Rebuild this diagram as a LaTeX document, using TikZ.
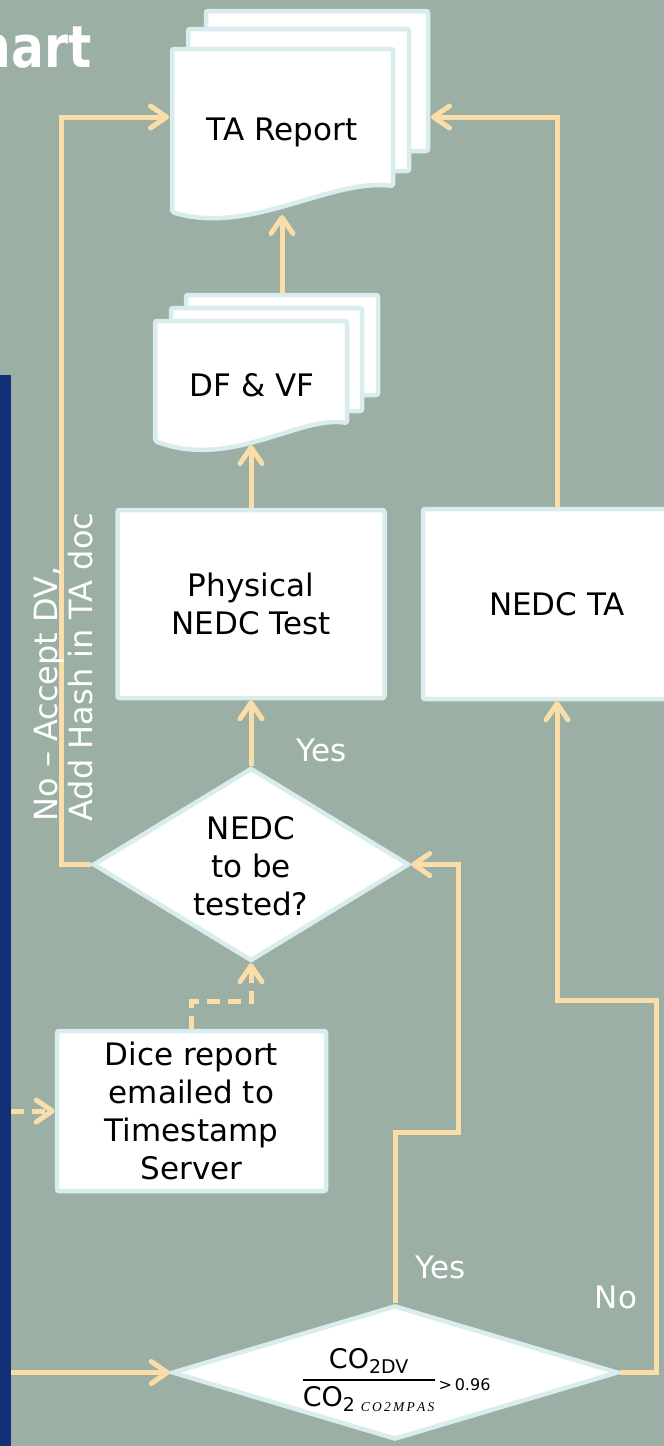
\documentclass[tikz,border=0pt]{standalone}
\usepackage{amsmath}
\usepackage{fontspec}
\setmainfont{DejaVu Sans}
\newfontfamily\serifit{Liberation Serif}
\usetikzlibrary{arrows.meta,shapes.geometric}
\definecolor{bg}{RGB}{155,175,165}
\definecolor{navy}{RGB}{18,47,120}
\definecolor{peach}{RGB}{250,222,170}
\definecolor{edge}{RGB}{218,237,238}
\begin{document}
\begin{tikzpicture}[x=1pt,y=-1pt,
  conn/.style={draw=peach,line width=5pt,-{Straight Barb[length=16pt,width=22pt,round]}},
  dashconn/.style={conn,dash pattern=on 13pt off 8pt},
  box/.style={draw=edge,fill=white,line width=4.5pt,rounded corners=2pt,inner sep=0pt,align=center,font=\fontsize{31}{38}\selectfont},
  pagebox/.style={draw=edge,fill=white,line width=4.5pt,rounded corners=2pt,inner sep=0pt},
  page/.style={draw=edge,fill=white,line width=4.5pt,rounded corners=2pt,line join=round},
  dia/.style={diamond,draw=edge,fill=white,line width=4.5pt,inner sep=0pt},
  diatext/.style={inner sep=0pt,align=center,font=\fontsize{31}{38}\selectfont},
  lbl/.style={text=white,inner sep=0pt,font=\fontsize{31}{37}\selectfont},
  doctext/.style={inner sep=0pt,font=\fontsize{31}{38}\selectfont},
]
\fill[bg] (0,0) rectangle (664,1446);
\useasboundingbox (0,0) rectangle (664,1446);
\node[fill=navy,minimum width=11pt,minimum height=1071pt,anchor=north west,inner sep=0pt,outer sep=0pt] (bar) at (0,375) {};
\node[anchor=base east,text=white,inner sep=0pt,xscale=0.84,font=\fontsize{58}{58}\selectfont\bfseries] (title) at (92,67) {hart};

% TA Report stack
\node[pagebox,minimum width=222pt,minimum height=140pt] (tab) at (317,81) {};
\node[pagebox,minimum width=221pt,minimum height=142pt] (tam) at (298.5,100) {};
\draw[page] (172,49) -- (393,49) -- (393,186) .. controls (330,178) and (250,236) .. (172,212) -- cycle;
\node[doctext] (ta) at (282,132) {TA Report};
\coordinate (taW) at (169,117);
\coordinate (taE) at (431,117);
\coordinate (taB) at (282,215);

% DF & VF stack
\node[pagebox,minimum width=192pt,minimum height=100pt] (dfb) at (282,345) {};
\node[pagebox,minimum width=191pt,minimum height=103pt] (dfm) at (266.5,359.5) {};
\draw[page] (155,321) -- (347,321) -- (347,423) .. controls (300,415) and (230,470) .. (155,441) -- cycle;
\node[doctext] (df) at (252,385) {DF \& VF};
\coordinate (dfB) at (251,445);

% boxes
\node[box,minimum width=267pt,minimum height=188pt] (phys) at (251,604) {Physical\\NEDC Test};
\node[box,minimum width=268pt,minimum height=190pt] (ta2) at (557,604) {NEDC TA};
\node[box,minimum width=269pt,minimum height=160pt] (dice) at (191.5,1111) {Dice report\\emailed to\\Timestamp\\Server};

% diamonds
\node[dia,minimum width=316pt,minimum height=193pt] (d1) at (251,864.5) {};
\node[diatext] (d1t) at (251,866) {NEDC\\to be\\tested?};
\node[dia,minimum width=446pt,minimum height=134pt] (d2) at (395,1372.5) {};
\node[diatext,font=\fontsize{27}{32}\selectfont] (d2t) at (396,1380)
 {$\displaystyle{\text{CO}_{\text{2DV}}\above 1.8pt\text{CO}_{\text{2\hspace{6pt}}\scriptscriptstyle\text{\serifit\itshape C\,O\,2\,M\,P\,A\,S}}}$\raisebox{-4pt}{\fontsize{16}{16}\selectfont\,>\,0.96}};

% connectors
\draw[conn] (d1.west) -- ++(-29,0) |- (taW);
\draw[conn] (ta2.north) |- (taE);
\draw[conn] (dfb.north) -- (taB);
\draw[conn] (phys.north) -- (dfB);
\draw[conn] (d1.north) -- (phys.south);
\draw[dashconn] (dice.north) -- ++(0,-27) -| (d1.south);
\draw[dashconn] (bar.east |- dice.west) -- (dice.west);
\draw[conn] (bar.east |- d2.west) -- (d2.west);
\draw[conn] (d2.north) -- ++(0,-171) -- ++(63,0) |- (d1.east);
\draw[conn] (d2.east) -- ++(36,0) -- ++(0,-372) -| (ta2.south);

% labels
\node[lbl] (yes1) at (322,750) {Yes};
\node[lbl] (yes2) at (441,1267) {Yes};
\node[lbl] (no2) at (616,1297) {No};
\node[lbl,rotate=90,align=left,font=\fontsize{32}{35}\selectfont] (nolbl) at (64,667) {No – Accept DV,\\Add Hash in TA doc};
\end{tikzpicture}
\end{document}
